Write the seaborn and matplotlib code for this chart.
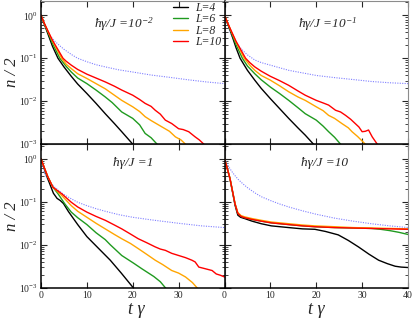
import numpy as np
import pandas as pd
import matplotlib
matplotlib.use("Agg")
import matplotlib.pyplot as plt
from matplotlib.lines import Line2D
import seaborn as sns

## values: t*gamma and log10(n/2)

# panel a: h gamma / J = 1e-2
ta_L4 = [0, 0.7, 1.5, 2.5, 3.7, 5, 6.6, 8, 10, 12, 14, 16, 17.6, 20, 20.5]
ya_L4 = [0, -0.2, -0.43, -0.72, -1.0, -1.2, -1.42, -1.6, -1.82, -2.05, -2.29, -2.52, -2.71, -3.0, -3.06]
ta_L6 = [0, 0.7, 1.5, 2.5, 4.1, 5.5, 6.6, 8, 10, 12, 14, 15.5, 17.6, 20, 21.5, 22.7, 24, 25.3, 26]
ya_L6 = [0, -0.19, -0.39, -0.65, -1.0, -1.19, -1.32, -1.46, -1.59, -1.74, -1.9, -2.03, -2.25, -2.4, -2.55, -2.75, -2.85, -3.0, -3.06]
ta_L8 = [0, 0.7, 1.5, 2.5, 4.5, 5.5, 6.6, 8, 10, 12, 14, 16, 17.6, 20, 21.5, 22.7, 24, 26.4, 28, 29.3, 30.5, 31.5, 32]
ya_L8 = [0, -0.18, -0.37, -0.6, -1.0, -1.14, -1.24, -1.36, -1.47, -1.59, -1.71, -1.86, -1.98, -2.13, -2.24, -2.36, -2.45, -2.6, -2.7, -2.83, -2.9, -3.0, -3.06]
ta_L10 = [0, 0.7, 1.5, 2.5, 4.8, 5.5, 6.6, 8, 10, 12, 14, 16, 17.6, 20, 21.5, 22.7, 24, 24.9, 26, 27.1, 28.5, 30, 31, 32.2, 33.6, 34.5, 35.5, 36]
ya_L10 = [0, -0.18, -0.36, -0.58, -1.0, -1.07, -1.16, -1.26, -1.37, -1.46, -1.55, -1.65, -1.74, -1.86, -1.96, -2.05, -2.12, -2.21, -2.3, -2.44, -2.52, -2.64, -2.66, -2.71, -2.83, -2.9, -3.0, -3.06]
ta_ref = [0, 0.5, 1, 1.5, 2, 3, 4, 5, 6.6, 8, 10, 12, 14, 17, 20, 24, 28.5, 32, 36, 40]
ya_ref = [0, -0.14, -0.28, -0.4, -0.48, -0.6, -0.7, -0.79, -0.91, -1.0, -1.08, -1.15, -1.2, -1.27, -1.32, -1.39, -1.45, -1.5, -1.55, -1.59]

# panel b: h gamma / J = 1e-1
tb_L4 = [0, 0.7, 1.5, 2.5, 3.4, 5, 6.6, 8, 10, 12, 14, 16, 17.6, 19.4, 20]
yb_L4 = [0, -0.2, -0.43, -0.75, -1.0, -1.28, -1.51, -1.7, -1.94, -2.17, -2.4, -2.62, -2.79, -3.0, -3.06]
tb_L6 = [0, 0.7, 1.5, 2.5, 3.9, 5, 6.6, 8, 10, 12, 14, 16, 17.6, 20, 21.5, 22.7, 24, 25.3, 26]
yb_L6 = [0, -0.19, -0.4, -0.68, -1.0, -1.18, -1.36, -1.5, -1.67, -1.82, -1.98, -2.15, -2.29, -2.44, -2.58, -2.71, -2.84, -3.0, -3.06]
tb_L8 = [0, 0.7, 1.5, 2.5, 4.3, 5.5, 6.6, 8, 10, 12, 14, 16, 17.6, 20, 21.5, 22.7, 24, 25.6, 27, 27.8, 29, 30.7, 31.2]
yb_L8 = [0, -0.18, -0.38, -0.62, -1.0, -1.16, -1.28, -1.4, -1.51, -1.64, -1.78, -1.9, -1.98, -2.13, -2.22, -2.33, -2.4, -2.52, -2.62, -2.71, -2.82, -3.0, -3.06]
tb_L10 = [0, 0.7, 1.5, 2.5, 4.6, 5.5, 6.6, 8, 10, 12, 14, 16, 17.6, 20, 21.5, 22.7, 24.2, 25.3, 26.4, 27.5, 28.5, 29.3, 30, 30.7, 31.4, 32.2, 33.3, 33.8]
yb_L10 = [0, -0.18, -0.37, -0.6, -1.0, -1.1, -1.2, -1.3, -1.42, -1.52, -1.63, -1.76, -1.86, -1.98, -2.04, -2.09, -2.21, -2.25, -2.33, -2.42, -2.52, -2.6, -2.71, -2.7, -2.67, -2.83, -3.0, -3.06]
tb_ref = [0, 0.5, 1, 1.5, 2, 3, 4, 5, 6.6, 8, 10, 12, 14, 17, 20, 24, 28.5, 32, 36, 40]
yb_ref = [0, -0.16, -0.32, -0.46, -0.56, -0.7, -0.82, -0.92, -1.04, -1.1, -1.16, -1.22, -1.28, -1.34, -1.4, -1.45, -1.5, -1.54, -1.57, -1.59]

# panel c: h gamma / J = 1
tc_L4 = [0, 0.7, 1.5, 2.7, 3.5, 4.2, 4.9, 6, 8, 10, 12.5, 15.1, 17.5, 20.1, 20.6]
yc_L4 = [0, -0.22, -0.47, -0.8, -0.92, -0.97, -1.04, -1.23, -1.53, -1.81, -2.08, -2.36, -2.66, -3.0, -3.06]
tc_L6 = [0, 0.7, 1.5, 2.6, 3.7, 5.2, 6.6, 8, 10, 12, 14, 15.1, 17.6, 20.2, 22, 24.6, 26, 27.1, 27.6]
yc_L6 = [0, -0.2, -0.42, -0.66, -0.81, -1.05, -1.24, -1.37, -1.53, -1.72, -1.88, -2.0, -2.25, -2.43, -2.56, -2.74, -2.86, -3.0, -3.06]
tc_L8 = [0, 0.7, 1.5, 2.6, 4.5, 6.6, 8, 10, 12, 14, 16, 17.6, 19.5, 21.2, 23, 24.9, 26.5, 28.5, 30, 31.5, 33, 34, 34.5]
yc_L8 = [0, -0.2, -0.42, -0.66, -0.85, -1.09, -1.22, -1.36, -1.5, -1.63, -1.76, -1.86, -1.97, -2.09, -2.22, -2.36, -2.46, -2.6, -2.66, -2.75, -2.88, -3.0, -3.06]
tc_L10 = [0, 0.7, 1.5, 2.6, 4.5, 6.6, 8, 10, 12, 14, 16, 17.6, 19.5, 21.2, 23, 24.9, 26, 27.1, 28.5, 30, 31.5, 32.9, 33.6, 34.4, 35.5, 37.3, 38.2, 39.1, 40]
yc_L10 = [0, -0.2, -0.42, -0.66, -0.81, -1.01, -1.12, -1.24, -1.34, -1.43, -1.54, -1.63, -1.75, -1.86, -1.95, -2.05, -2.1, -2.13, -2.2, -2.25, -2.3, -2.36, -2.4, -2.52, -2.55, -2.6, -2.68, -2.71, -2.75]
tc_ref = [0, 0.4, 0.8, 1.5, 2, 3, 4, 5, 6.6, 8, 10, 12, 14, 17, 20, 24, 30, 35, 40]
yc_ref = [0, -0.18, -0.35, -0.48, -0.55, -0.66, -0.75, -0.83, -0.93, -1.01, -1.09, -1.16, -1.22, -1.3, -1.36, -1.42, -1.5, -1.56, -1.6]

# panel d: h gamma / J = 10
td_L4 = [0, 0.5, 1.2, 1.8, 2.3, 2.9, 3.5, 4.4, 6, 8, 10.2, 14, 17, 19.7, 22, 24.8, 27, 29.2, 31.5, 33.6, 35.5, 37.2, 38.5, 40]
yd_L4 = [0, -0.18, -0.47, -0.8, -1.08, -1.31, -1.36, -1.39, -1.45, -1.51, -1.56, -1.6, -1.63, -1.64, -1.69, -1.77, -1.9, -2.05, -2.22, -2.36, -2.44, -2.5, -2.52, -2.53]
td_L6 = [0, 0.5, 1.2, 1.8, 2.3, 2.9, 3.6, 4.4, 6, 8, 10.2, 14, 17, 19.7, 24, 28, 32, 34, 36, 38, 40]
yd_L6 = [0, -0.18, -0.46, -0.78, -1.05, -1.27, -1.34, -1.37, -1.41, -1.45, -1.49, -1.53, -1.56, -1.58, -1.6, -1.61, -1.62, -1.64, -1.67, -1.71, -1.76]
td_L8 = [0, 0.5, 1.2, 1.8, 2.3, 2.9, 3.6, 4.4, 6, 8, 10.2, 14, 17, 19.7, 24, 28, 32, 36, 40]
yd_L8 = [0, -0.18, -0.46, -0.78, -1.04, -1.25, -1.32, -1.35, -1.39, -1.43, -1.47, -1.51, -1.54, -1.56, -1.58, -1.6, -1.61, -1.62, -1.63]
td_L10 = [0, 0.5, 1.2, 1.8, 2.3, 2.9, 3.6, 4.4, 6, 8, 10.2, 14, 17, 19.7, 24, 28, 32, 36, 40]
yd_L10 = [0, -0.18, -0.46, -0.78, -1.05, -1.27, -1.34, -1.37, -1.41, -1.45, -1.49, -1.53, -1.56, -1.58, -1.6, -1.61, -1.62, -1.63, -1.64]
td_ref = [0, 0.8, 1.5, 2.2, 3, 4, 5, 6.6, 8, 10, 12, 14, 17, 20, 24, 28, 32, 36, 40]
yd_ref = [0, -0.16, -0.28, -0.38, -0.48, -0.58, -0.67, -0.79, -0.88, -0.97, -1.05, -1.12, -1.21, -1.29, -1.38, -1.45, -1.51, -1.56, -1.6]

series_names = ["L=4", "L=6", "L=8", "L=10"]
series_colors = ["black", "#1f9a1f", "#ffa500", "#ff0000"]
ref_color = "#7f7fff"
panel_labels = [r"ħγ/J =$\mathdefault{10^{-2}}$", r"ħγ/J =$\mathdefault{10^{-1}}$",
                "ħγ/J =1", "ħγ/J =10"]

sns.set_style("ticks")
plt.rcParams["font.family"] = ["Liberation Serif", "DejaVu Serif"]
plt.rcParams["mathtext.fontset"] = "custom"
plt.rcParams["mathtext.rm"] = "Liberation Serif"
plt.rcParams["mathtext.it"] = "Liberation Serif:italic"

fig = plt.figure(figsize=(4.15, 3.21), dpi=100)
gs = fig.add_gridspec(2, 2, left=41 / 415, right=408 / 415, bottom=1 - 287.7 / 321,
                      top=0.998, wspace=0, hspace=0)
# bottom row first so the black axis lines of the top row sit on top
ax_c = fig.add_subplot(gs[1, 0])
ax_d = fig.add_subplot(gs[1, 1])
ax_a = fig.add_subplot(gs[0, 0])
ax_b = fig.add_subplot(gs[0, 1])

panel_data = [
    (ax_a, [(ta_L4, ya_L4), (ta_L6, ya_L6), (ta_L8, ya_L8), (ta_L10, ya_L10)], (ta_ref, ya_ref)),
    (ax_b, [(tb_L4, yb_L4), (tb_L6, yb_L6), (tb_L8, yb_L8), (tb_L10, yb_L10)], (tb_ref, yb_ref)),
    (ax_c, [(tc_L4, yc_L4), (tc_L6, yc_L6), (tc_L8, yc_L8), (tc_L10, yc_L10)], (tc_ref, yc_ref)),
    (ax_d, [(td_L4, yd_L4), (td_L6, yd_L6), (td_L8, yd_L8), (td_L10, yd_L10)], (td_ref, yd_ref)),
]
text_pos = [(0.451, 0.815), (0.563, 0.815), (0.503, 0.847), (0.546, 0.847)]

for i, (ax, curves, ref) in enumerate(panel_data):
    ax.set_facecolor("none")
    ref_df = pd.DataFrame({"t": ref[0], "n": 10.0 ** np.array(ref[1])})
    sns.lineplot(data=ref_df, x="t", y="n", ax=ax, color=ref_color, linewidth=0.8,
                 linestyle=(0, (1, 1.2)), estimator=None, sort=False)
    frames = []
    for name, (t, y) in zip(series_names, curves):
        frames.append(pd.DataFrame({"t": t, "n": 10.0 ** np.array(y), "L": name}))
    df = pd.concat(frames, ignore_index=True)
    sns.lineplot(data=df, x="t", y="n", hue="L", palette=dict(zip(series_names, series_colors)),
                 hue_order=series_names, ax=ax, linewidth=1.0, estimator=None, sort=False,
                 legend=False)
    ax.set_yscale("log")
    ax.set_xlim(0, 40)
    ax.set_ylim(1e-3, 2.2)
    ax.set_xticks([0, 10, 20, 30, 40])
    ax.set_xlabel("")
    ax.set_ylabel("")
    ax.tick_params(which="both", direction="in", top=True, right=True, labelsize=7, pad=2.5)
    ax.tick_params(which="major", length=4.5, width=0.8)
    ax.tick_params(which="minor", length=2.3, width=0.6)
    ax.tick_params(axis="x", which="minor", length=0)
    for side in ["left", "bottom"]:
        ax.spines[side].set_color("black")
        ax.spines[side].set_linewidth(1.1)
    for side in ["top", "right"]:
        ax.spines[side].set_color("#8c8c8c")
        ax.spines[side].set_linewidth(0.8)
    ax.text(text_pos[i][0], text_pos[i][1], panel_labels[i], transform=ax.transAxes,
            ha="center", va="baseline", fontsize=9.5, fontstyle="italic")

ax_a.tick_params(labelbottom=False)
ax_b.tick_params(labelbottom=False, labelleft=False)
ax_d.tick_params(labelleft=False)
ax_c.set_xticklabels(["0", "10", "20", "30", ""])

handles = [Line2D([], [], color=c, linewidth=1.0) for c in series_colors]
ax_a.legend(handles, series_names, loc="upper left", bbox_to_anchor=(0.717, 0.99),
            frameon=False, prop={"family": "Liberation Serif", "style": "italic", "size": 8.5},
            handlelength=1.3, handletextpad=0.6, labelspacing=-0.05, borderpad=0,
            borderaxespad=0)

for yc in [1 - 72 / 321, 1 - 216 / 321]:
    fig.text(12 / 415, yc, "n / 2", rotation=90, ha="center", va="center",
             fontsize=12, fontstyle="italic")
for xc in [136 / 415, 316 / 415]:
    fig.text(xc, 1 - 309 / 321, "t γ", ha="center", va="center", fontsize=13,
             fontstyle="italic")

plt.savefig("out.png", dpi=100)
plt.close()
